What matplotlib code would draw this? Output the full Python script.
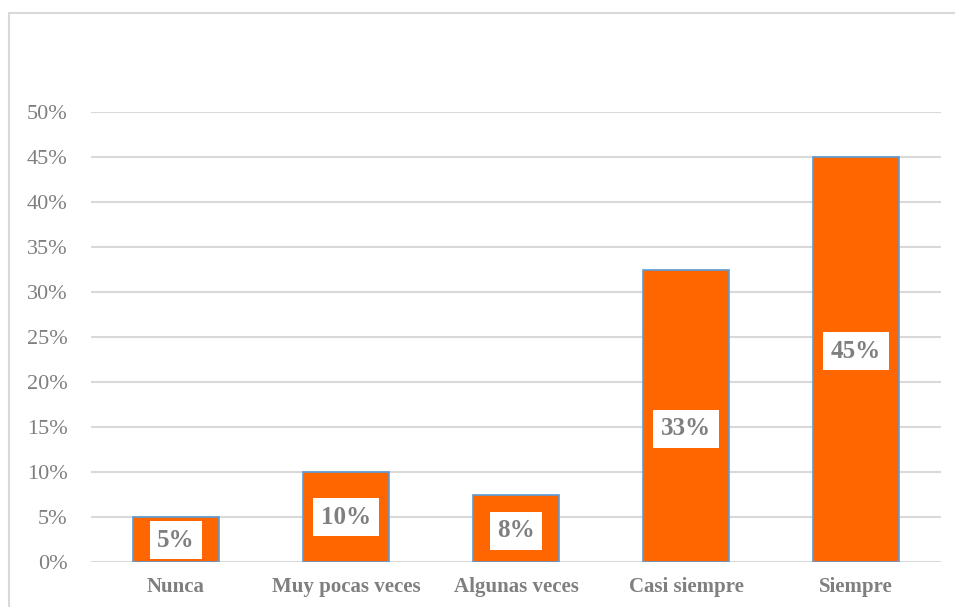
"""
Bar chart of response frequencies (percent of respondents)
"""

import matplotlib.pyplot as plt
from matplotlib.patches import Rectangle
from matplotlib.ticker import FuncFormatter, MultipleLocator

categories = ["Nunca", "Muy pocas veces", "Algunas veces", "Casi siempre", "Siempre"]
values = [5.0, 10.0, 7.5, 32.5, 45.0]
labels = ["5%", "10%", "8%", "33%", "45%"]
# where the value box sits, as a fraction of bar height
label_frac = [0.48, 0.5, 0.46, 0.455, 0.52]

W, H = 955, 607
fig = plt.figure(figsize=(W / 100, H / 100), dpi=100)
plt.rcParams["font.family"] = ["Liberation Serif", "DejaVu Serif"]

# light chart-area frame (right and bottom run off the image)
fig.patches.append(
    Rectangle((9 / W, -0.05), 1.1, 1 - 13 / H + 0.05, transform=fig.transFigure,
              fill=False, edgecolor="#d9d9d9", linewidth=1.5)
)

ax = fig.add_axes([91 / W, 45 / H, 850 / W, 450 / H])
x = range(len(categories))
ax.bar(x, values, width=0.505, color="#ff6600", edgecolor="#5b9bd5",
       linewidth=1.2, zorder=3)

for xi, v, lab, f in zip(x, values, labels, label_frac):
    ax.text(xi, v * f, lab, ha="center", va="center", fontsize=18,
            fontweight="bold", color="#7f7f7f", zorder=4,
            bbox=dict(boxstyle="square,pad=0.3", facecolor="white", edgecolor="none"))

ax.set_xlim(-0.5, 4.5)
ax.set_ylim(0, 50)
ax.yaxis.set_major_locator(MultipleLocator(5))
ax.yaxis.set_major_formatter(FuncFormatter(lambda v, p: f"{v:.0f}%"))
ax.grid(True, axis="y", color="#d9d9d9", linewidth=1.5, zorder=0)
for s in ax.spines.values():
    s.set_visible(False)

ax.set_xticks(list(x))
ax.set_xticklabels(categories, fontsize=15, fontweight="bold", color="#7f7f7f")
ax.tick_params(axis="x", length=0, pad=11)
ax.tick_params(axis="y", length=0, pad=17, labelsize=16, labelcolor="#7f7f7f")

plt.savefig("out.png", dpi=100)
